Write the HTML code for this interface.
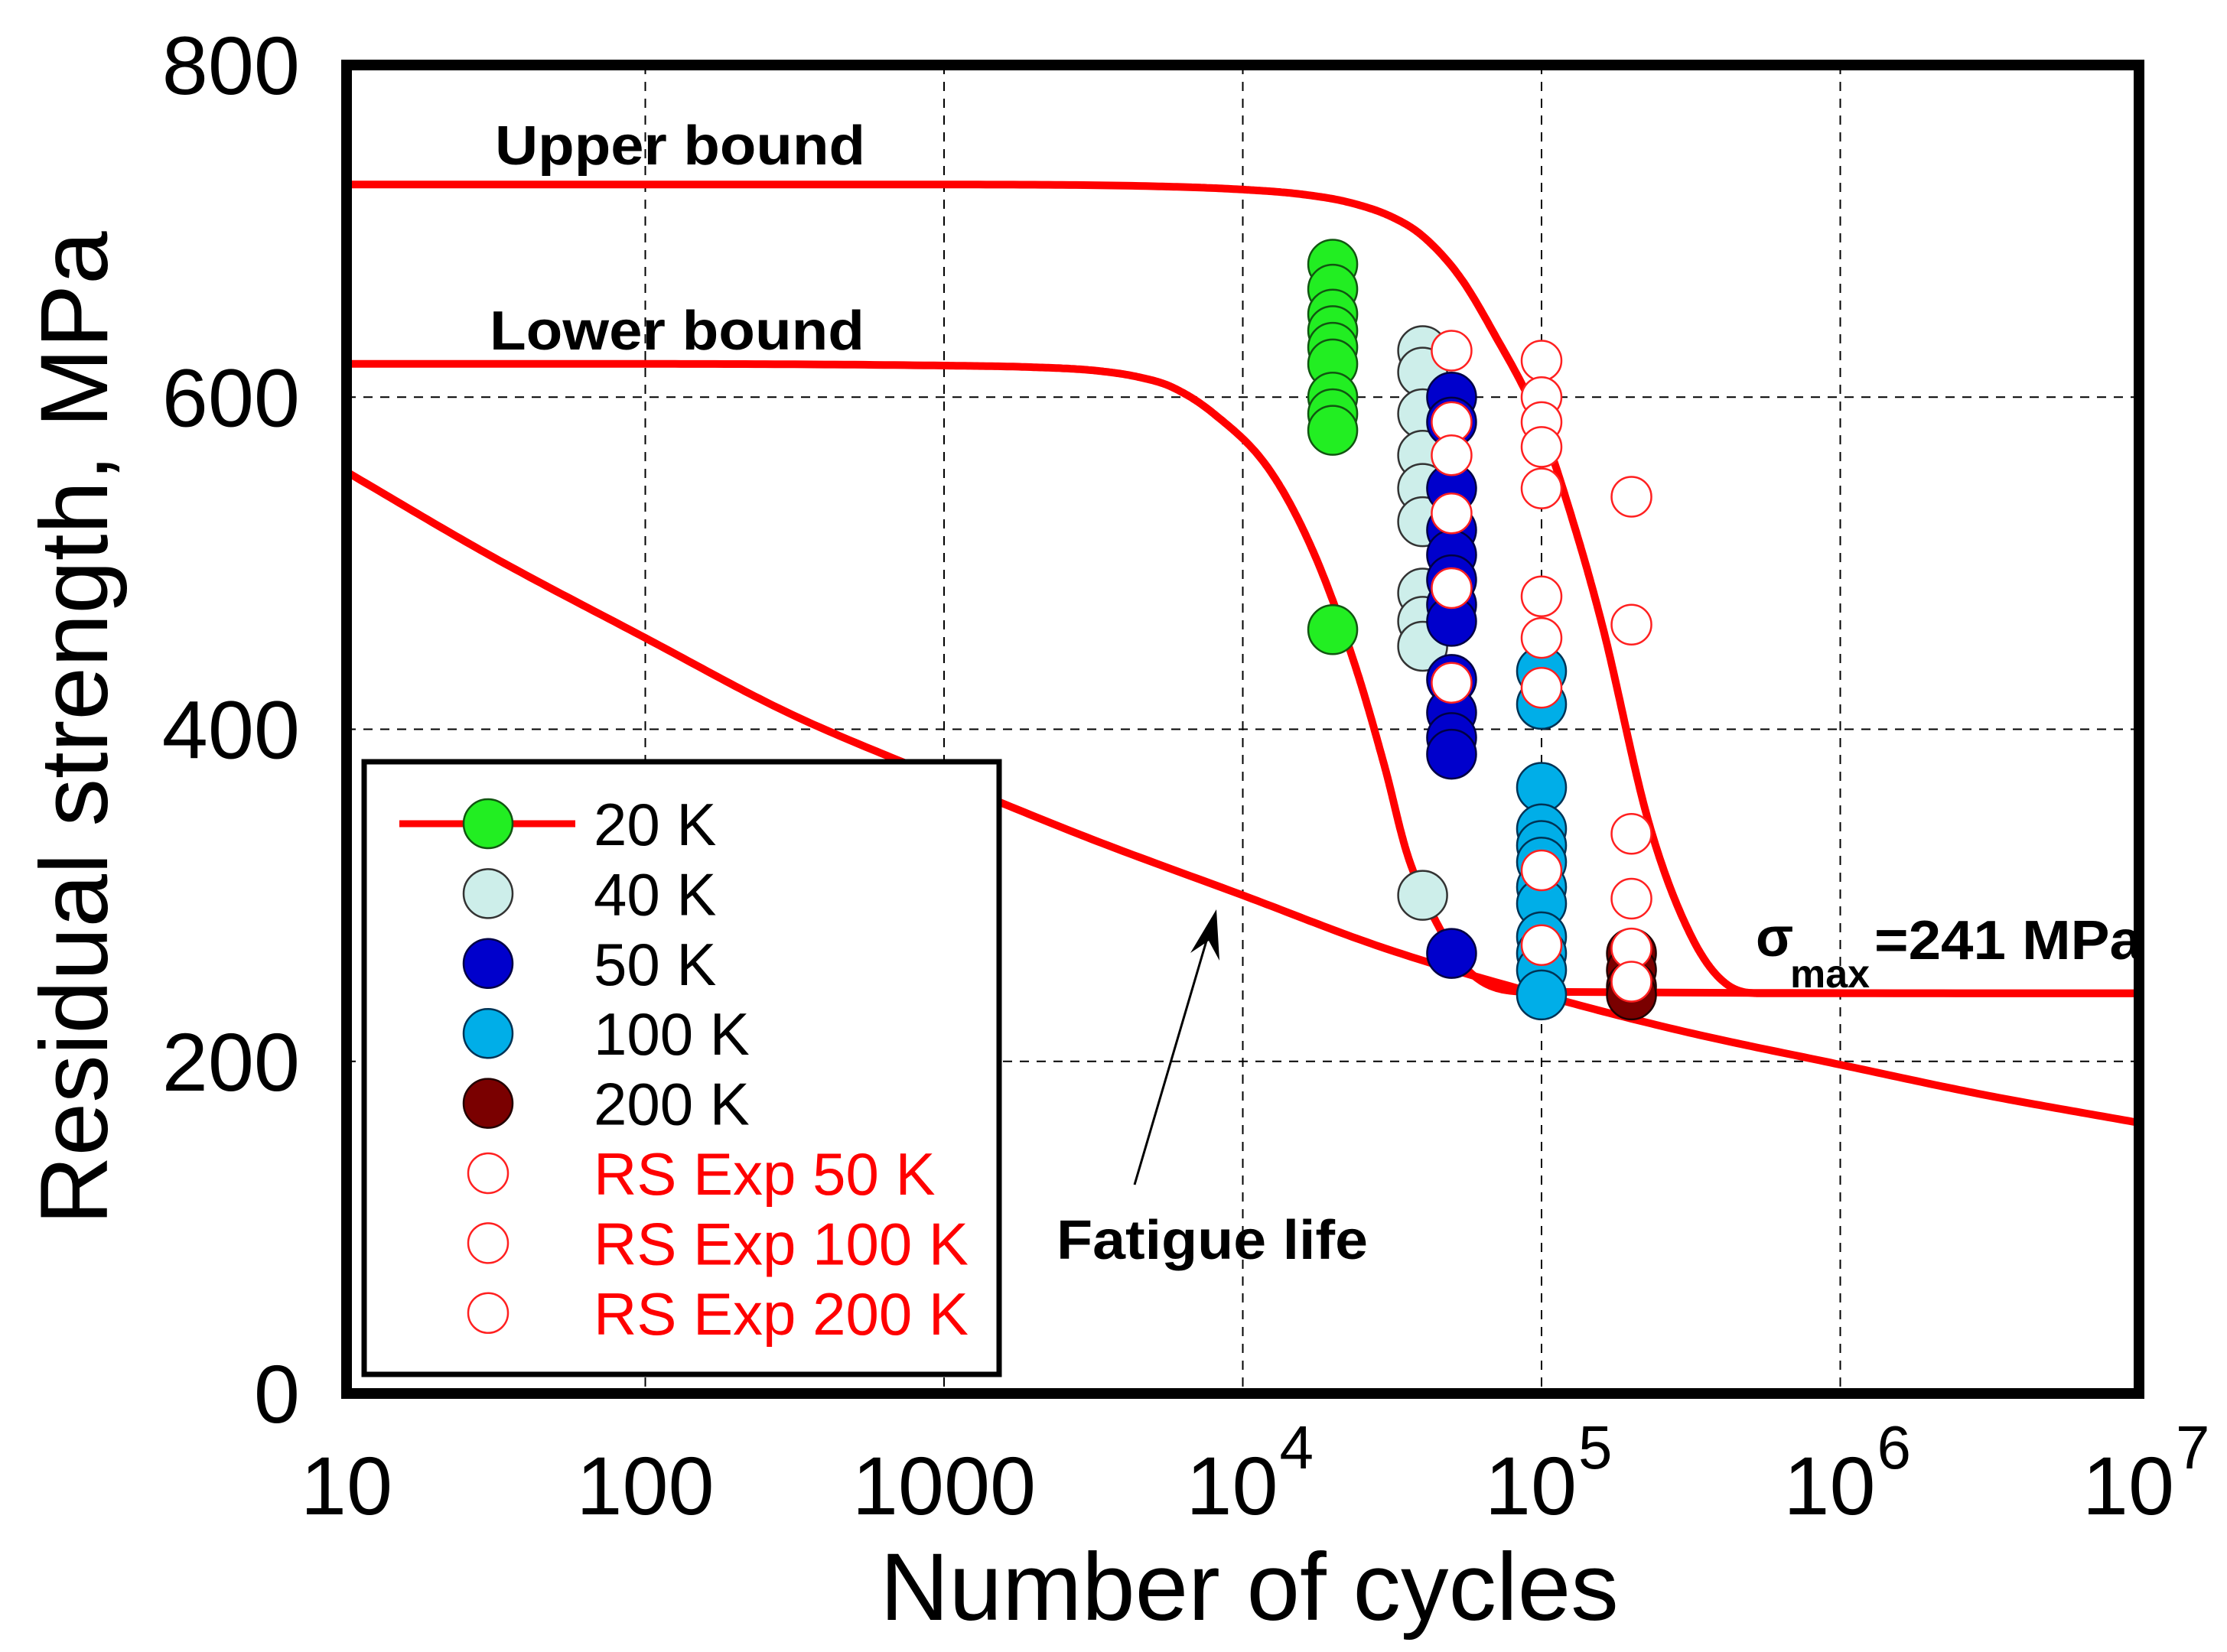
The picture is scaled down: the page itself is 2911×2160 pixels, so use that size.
<!DOCTYPE html>
<html><head><meta charset="utf-8"><style>
html,body{margin:0;padding:0;background:#fff;}
svg{display:block;}
text{font-family:"Liberation Sans",Arial,sans-serif;}
</style></head><body>
<svg id="chart" width="2911" height="2160" viewBox="0 0 2911 2160" xmlns="http://www.w3.org/2000/svg">
<g id="grid"></g>
<g id="curves"></g>
<g id="points"></g>
<rect x="453" y="85" width="2343" height="1737" fill="none" stroke="#000" stroke-width="14"/>
<g id="yticks"></g>
<g id="xticks"></g>
<text x="1633" y="2118" font-size="125" text-anchor="middle">Number of cycles</text>
<text x="0" y="0" font-size="125" text-anchor="middle" transform="translate(140,952) rotate(-90)">Residual strength, MPa</text>
<text x="647" y="215" font-size="72" font-weight="bold" textLength="484" lengthAdjust="spacingAndGlyphs">Upper bound</text>
<text x="640" y="457" font-size="72" font-weight="bold" textLength="490" lengthAdjust="spacingAndGlyphs">Lower bound</text>
<text x="1381" y="1646" font-size="72" font-weight="bold" textLength="407" lengthAdjust="spacingAndGlyphs">Fatigue life</text>
<g>
<text x="2295" y="1250" font-size="72" font-weight="bold">σ</text>
<text x="2340" y="1291" font-size="52" font-weight="bold">max</text>
<text x="2450" y="1254" font-size="72" font-weight="bold" textLength="350" lengthAdjust="spacingAndGlyphs">=241 MPa</text>
</g>
<g>
<line x1="1483" y1="1549" x2="1580" y2="1220" stroke="#000" stroke-width="3"/>
<polygon points="1590,1189 1594,1256 1580,1230 1556,1246" fill="#000"/>
</g>
<g id="legend">
<rect x="476" y="996" width="830" height="801" fill="#fff" stroke="#000" stroke-width="7"/>
</g>
</svg>
<script>
const xTicks=[10,100,1000,1e4,1e5,1e6,1e7];
const xTickBase=["10","100","1000","10","10","10","10"];
const xTickExp=["","","","4","5","6","7"];
const yTicks=[0,200,400,600,800];
const fatigueN=[10,30,100,300,1000,3000,1e4,3e4,1e5,3e5,1e6,3e6,1e7];
const fatigueS=[555,505,455,410,370,335,300,268,240,218,198,180,163];
const upperN=[10,100,1000,5000,1e4,1.6e4,2.3e4,3.2e4,4e4,5.3e4,6.8e4,1e5,1.3e5,1.6e5,2.3e5,3.2e5,4.2e5,5.5e5,1e6,1e7];
const upperS=[728,728,728,727,725,722,717,708,697,673,641,582,520,462,342,274,246,241,241,241];
const lowerN=[10,100,1000,2000,3200,4500,5800,8000,1.23e4,1.74e4,2.4e4,3e4,3.55e4,4.5e4,5.9e4,9e4,1e7];
const lowerS=[620,620,619,618,616,612,606,590,556,505,436,376,325,282,252,242,241];
const s20N=[2e4,2e4,2e4,2e4,2e4,2e4,2e4,2e4,2e4,2e4];
const s20=[680,665,650,640,630,620,600,590,580,460];
const s40N=[4e4,4e4,4e4,4e4,4e4,4e4,4e4,4e4,4e4,4e4];
const s40=[628,615,590,565,545,525,482,465,450,300];
const s50N=[5e4,5e4,5e4,5e4,5e4,5e4,5e4,5e4,5e4,5e4,5e4,5e4,5e4];
const s50=[600,585,545,520,505,490,475,465,430,410,395,385,265];
const s100N=[1e5,1e5,1e5,1e5,1e5,1e5,1e5,1e5,1e5,1e5,1e5,1e5];
const s100=[435,415,365,340,330,320,305,295,275,265,255,240];
const s200N=[2e5,2e5,2e5,2e5];
const s200=[265,255,245,240];
const rs50N=[5e4,5e4,5e4,5e4,5e4,5e4];
const rs50=[628,585,565,530,485,428];
const rs100N=[1e5,1e5,1e5,1e5,1e5,1e5,1e5,1e5,1e5,1e5];
const rs100=[622,600,585,570,545,480,455,425,315,270];
const rs200N=[2e5,2e5,2e5,2e5,2e5,2e5];
const rs200=[540,463,337,298,268,248];
const legendLabels=["20 K","40 K","50 K","100 K","200 K","RS Exp 50 K","RS Exp 100 K","RS Exp 200 K"];

const NS="http://www.w3.org/2000/svg";
const X0=453,X1=2796,Y0=1822,Y1=85;
function xs(n){return X0+(Math.log10(n)-1)/6*(X1-X0);}
function ys(v){return Y0-v/800*(Y0-Y1);}
function mk(tag,attrs,parent){const e=document.createElementNS(NS,tag);for(const k in attrs)e.setAttribute(k,attrs[k]);parent.appendChild(e);return e;}
const grid=document.getElementById('grid');
xTicks.slice(1,-1).forEach(n=>{const l=mk('line',{x1:xs(n),x2:xs(n),y1:Y1,y2:Y0,stroke:'#000','stroke-width':2,'stroke-dasharray':'12,10'},grid);

});
yTicks.slice(1,-1).forEach(v=>{const l=mk('line',{x1:X0,x2:X1,y1:ys(v),y2:ys(v),stroke:'#000','stroke-width':2,'stroke-dasharray':'12,10'},grid);

});
const yt=document.getElementById('yticks');
yTicks.forEach(v=>{const t=mk('text',{x:392,y:ys(v)+38,'font-size':108,'text-anchor':'end'},yt);t.textContent=String(v);

});
const xt=document.getElementById('xticks');
xTicks.forEach((n,i)=>{const g=mk('g',{},xt);


const e=xTickExp[i];
const t=mk('text',{x:xs(n)-(e?14:0),y:1980,'font-size':108,'text-anchor':'middle'},g);t.textContent=xTickBase[i];
if(e){const s=mk('text',{x:xs(n)+48,y:1920,'font-size':80},g);s.textContent=e;}});
const cv=document.getElementById('curves');
function curve(N,S,name){
const x=N.map(n=>Math.log10(n)),y=S.slice(),n=x.length;
const d=[],m=new Array(n);
for(let i=0;i<n-1;i++)d.push((y[i+1]-y[i])/(x[i+1]-x[i]));
m[0]=d[0];m[n-1]=d[n-2];
for(let i=1;i<n-1;i++){m[i]=(d[i-1]*d[i]<=0)?0:(d[i-1]+d[i])/2;}
for(let i=0;i<n-1;i++){if(d[i]===0){m[i]=0;m[i+1]=0;continue;}const a=m[i]/d[i],b=m[i+1]/d[i],h=a*a+b*b;if(h>9){const t=3/Math.sqrt(h);m[i]=t*a*d[i];m[i+1]=t*b*d[i];}}
let p='';
for(let i=0;i<n-1;i++){const h=x[i+1]-x[i];const steps=30;
for(let k=(i===0?0:1);k<=steps;k++){const t=k/steps,t2=t*t,t3=t2*t;
const v=(2*t3-3*t2+1)*y[i]+(t3-2*t2+t)*h*m[i]+(-2*t3+3*t2)*y[i+1]+(t3-t2)*h*m[i+1];
const lx=x[i]+t*h;const px=X0+(lx-1)/6*(X1-X0),py=ys(v);
p+=(p?' L':'M')+px.toFixed(1)+','+py.toFixed(1);}}
const e=mk('path',{d:p,fill:'none',stroke:'#ff0000','stroke-width':10,'stroke-linejoin':'round'},cv);

}
curve(fatigueN,fatigueS,'fatigue-life-curve');
curve(upperN,upperS,'upper-bound-curve');
curve(lowerN,lowerS,'lower-bound-curve');
const pts=document.getElementById('points');
const styles=[{f:'#22ee22',s:'#115511',r:32},{f:'#cdeeea',s:'#333',r:32},{f:'#0000cc',s:'#000044',r:32},{f:'#00aee8',s:'#003355',r:32},{f:'#7a0000',s:'#220000',r:32},{f:'#fff',s:'#ff2020',r:26},{f:'#fff',s:'#ff2020',r:26},{f:'#fff',s:'#ff2020',r:26}];
const series=[[s20N,s20,'point-20k'],[s40N,s40,'point-40k'],[s50N,s50,'point-50k'],[s100N,s100,'point-100k'],[s200N,s200,'point-200k'],[rs50N,rs50,'point-rs-50k'],[rs100N,rs100,'point-rs-100k'],[rs200N,rs200,'point-rs-200k']];
series.forEach((sr,k)=>{const st=styles[k];sr[0].forEach((n,i)=>{const c=mk('circle',{cx:xs(n),cy:ys(sr[1][i]),r:st.r,fill:st.f,stroke:st.s,'stroke-width':2.5},pts);

});});
const lg=document.getElementById('legend');
legendLabels.forEach((lab,i)=>{const y=1077+i*91.4;const st=styles[i];
const g=mk('g',{},lg);


if(i===0)mk('line',{x1:522,x2:752,y1:y,y2:y,stroke:'#ff0000','stroke-width':9},g);
mk('circle',{cx:638,cy:y,r:i<5?32:26,fill:st.f,stroke:st.s,'stroke-width':2.5},g);
const t=mk('text',{x:776,y:y+28,'font-size':78,fill:i<5?'#000':'#ff0000'},g);t.textContent=lab;});
</script>
</body></html>
